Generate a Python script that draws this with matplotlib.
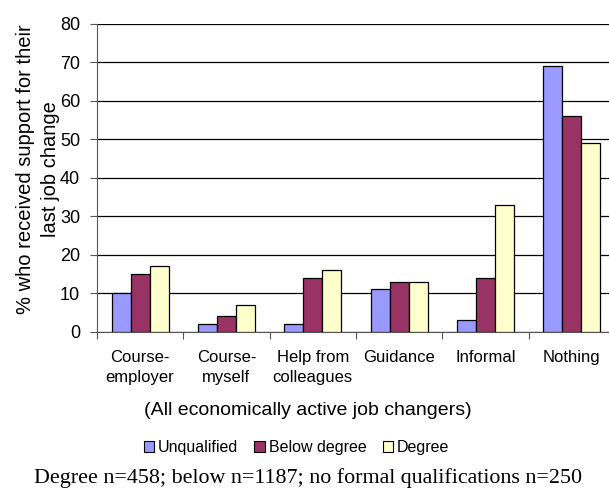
import numpy as np
import matplotlib
matplotlib.use("Agg")
import matplotlib.pyplot as plt
from matplotlib.patches import Patch

plt.rcParams['font.family'] = ['Liberation Sans', 'DejaVu Sans']

categories = ["Course-\nemployer", "Course-\nmyself", "Help from\ncolleagues",
              "Guidance", "Informal", "Nothing"]
unqualified = [10, 2, 2, 11, 3, 69]
below_degree = [15, 4, 14, 13, 14, 56]
degree = [17, 7, 16, 13, 33, 49]

series = [("Unqualified", unqualified, "#9999FF"),
          ("Below degree", below_degree, "#993366"),
          ("Degree", degree, "#FFFFCC")]

fig = plt.figure(figsize=(6.09, 4.96), dpi=100)
ax = fig.add_axes([0.159, 0.331, 0.851, 0.621])

x = np.arange(len(categories))
w = 0.22
for i, (name, vals, col) in enumerate(series):
    ax.bar(x + (i - 1) * w, vals, w, color=col, edgecolor="black", linewidth=0.9,
           label=name, zorder=3)

ax.set_xlim(-0.5, len(categories) - 0.5)
ax.set_ylim(0, 80)
ax.set_yticks(range(0, 81, 10))
ax.yaxis.grid(True, color="black", linewidth=0.9, zorder=0)
for s in ["top", "right"]:
    ax.spines[s].set_visible(False)
ax.spines["left"].set_color("#555555")
ax.spines["bottom"].set_color("#555555")

# ticks between groups, labels centred under groups
ax.set_xticks(np.arange(len(categories) + 1) - 0.5, minor=False)
ax.set_xticklabels([])
ax.set_xticks(x, minor=True)
ax.set_xticklabels(categories, minor=True, fontsize=12, linespacing=1.4)
ax.tick_params(axis="x", which="minor", length=0, pad=13)
ax.tick_params(axis="x", which="major", length=5, direction="out", color="#555555")
ax.tick_params(axis="y", length=5, labelsize=13, color="#555555", pad=7)

fig.text(0.063, 0.66, "% who received support for their\nlast job change", rotation=90,
         ha="center", va="center", fontsize=14.5, linespacing=1.4)

fig.text(0.505, 0.173, "(All economically active job changers)", ha="center",
         va="center", fontsize=14)

handles = [Patch(facecolor=c, edgecolor="black", linewidth=0.8) for _, _, c in series]
fig.legend(handles, [n for n, _, _ in series], loc="center", bbox_to_anchor=(0.487, 0.097),
           ncol=3, frameon=False, fontsize=11.5, handlelength=0.65, handleheight=0.65,
           handletextpad=0.25, columnspacing=1.0)

fig.text(0.505, 0.037, "Degree n=458; below n=1187; no formal qualifications n=250",
         ha="center", va="center", fontsize=15.8, family=["Liberation Serif", "DejaVu Serif"])

fig.savefig("out.png", dpi=100)
